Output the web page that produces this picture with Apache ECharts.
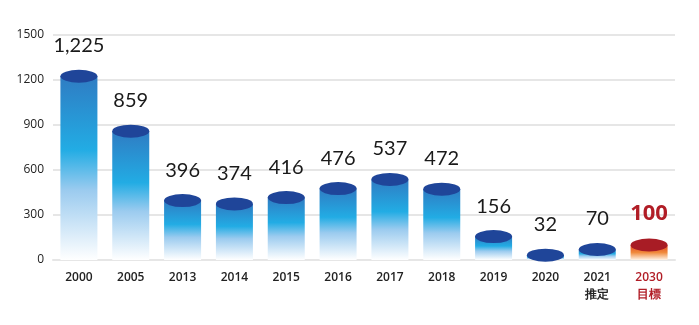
<!DOCTYPE html>
<html><head><meta charset="utf-8">
<script src="https://cdn.jsdelivr.net/npm/echarts@6/dist/echarts.min.js"></script>
<style>html,body{margin:0;padding:0;background:#fff}#c{width:699px;height:325px}</style>
</head><body><div id="c"></div>
<script>
var categories = ['2000','2005','2013','2014','2015','2016','2017','2018','2019','2020','2021\n推定','2030\n目標'];
var values = [1225, 859, 396, 374, 416, 476, 537, 472, 156, 32, 70, 100];
var yTicks = [0, 300, 600, 900, 1200, 1500];
var targetIndex = 11;

var blueGrad = new echarts.graphic.LinearGradient(0,0,0,1,[
  {offset:0,color:'#2f7cc3'},{offset:0.4,color:'#22ace4'},{offset:0.62,color:'#9bcbef'},{offset:1,color:'#ffffff'}]);
var redGrad = new echarts.graphic.LinearGradient(0,0,0,1,[
  {offset:0,color:'#e0481f'},{offset:0.5,color:'#f08a3c'},{offset:1,color:'#fff4e8'}]);

var barData = values.map(function(v,i){
  return {value:v, itemStyle:{color: i===targetIndex ? redGrad : blueGrad}};
});
var capData = values.map(function(v,i){
  var t = i===targetIndex;
  return {value:v, itemStyle:{color: t ? '#a81c25' : '#1f4599', opacity:1},
    label: t ? {color:'#b11d26', fontWeight:'bold', fontSize:22, fontFamily:'Open Sans'} : {}};
});

var chart = echarts.init(document.getElementById('c'), null, {renderer:'canvas'});
chart.setOption({
  animation:false,
  grid:{left:53, right:24, top:35, bottom:65},
  xAxis:{type:'category', data:categories,
    axisLine:{show:true, lineStyle:{color:'#e6e6e6', width:2}},
    axisTick:{show:false},
    axisLabel:{interval:0, margin:9, fontSize:12, fontWeight:600, color:'#222', fontFamily:'Open Sans', lineHeight:17,
      formatter:function(v, i){ return i===targetIndex ? '{r|'+v.replace('\n','}\n{r|')+'}' : v; },
      rich:{r:{color:'#b11d26', fontSize:12, fontWeight:600, fontFamily:'Open Sans', lineHeight:17}}}
  },
  yAxis:{type:'value', min:yTicks[0], max:yTicks[yTicks.length-1], interval:300,
    axisLine:{show:false}, axisTick:{show:false},
    axisLabel:{margin:9, fontSize:12, color:'#222', fontFamily:'Open Sans', padding:[7,0,0,0],
      formatter:function(v){return String(v);}},
    splitLine:{lineStyle:{color:'#e6e6e6', width:2}}
  },
  series:[
    {type:'bar', data:barData, barWidth:37, z:2},
    {type:'scatter', data:capData, symbol:'circle', symbolSize:[37,13], z:3, itemStyle:{opacity:1},
      label:{show:true, position:'top', distance:14, fontSize:20, color:'#1a1a1a', fontFamily:'Lato', fontWeight:400,
        formatter:function(p){ return p.value.toLocaleString('en-US'); }}}
  ]
});
</script></body></html>
